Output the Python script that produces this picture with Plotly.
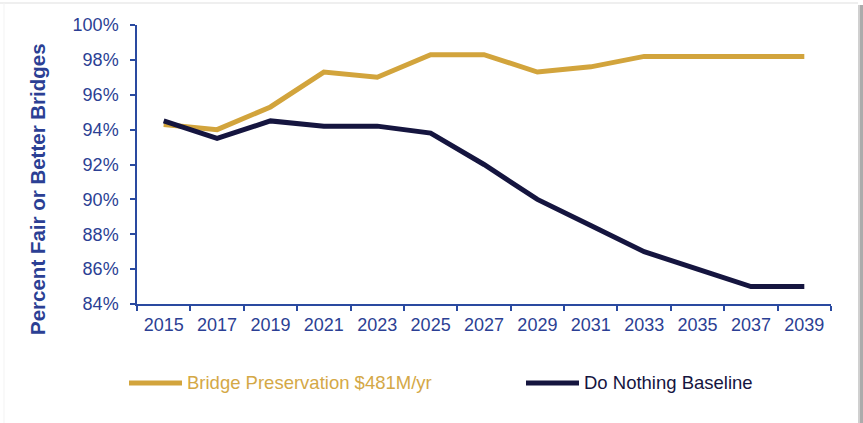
import plotly.graph_objects as go

# Bridge condition forecast, percent of bridges rated fair or better
years = ["2015", "2017", "2019", "2021", "2023", "2025", "2027",
         "2029", "2031", "2033", "2035", "2037", "2039"]
preservation = [94.3, 94.0, 95.3, 97.3, 97.0, 98.3, 98.3,
                97.3, 97.6, 98.2, 98.2, 98.2, 98.2]
do_nothing = [94.5, 93.5, 94.5, 94.2, 94.2, 93.8, 92.0,
              90.0, 88.5, 87.0, 86.0, 85.0, 85.0]

series_names = ["Bridge Preservation $481M/yr", "Do Nothing Baseline"]
y_ticks = [84, 86, 88, 90, 92, 94, 96, 98, 100]
y_tick_text = [f"{v}%" for v in y_ticks]
y_title = "Percent Fair or Better Bridges"

GOLD = "#D2A43C"
GOLD_TEXT = "#D4A846"
NAVY = "#15153F"
AXIS_BLUE = "#2A4AA0"
LABEL_BLUE = "#2B3F94"
FONT = "Liberation Sans, Arial, sans-serif"

W, H = 863, 423
L, R, T, B = 137, 32, 25, 119
PW, PH = W - L - R, H - T - B


def px_x(p):
    return (p - L) / PW


def px_y(p):
    return (H - B - p) / PH


fig = go.Figure()
fig.add_trace(go.Scatter(x=years, y=preservation, mode="lines",
                         name=series_names[0],
                         line=dict(color=GOLD, width=5), showlegend=False))
fig.add_trace(go.Scatter(x=years, y=do_nothing, mode="lines",
                         name=series_names[1],
                         line=dict(color=NAVY, width=5), showlegend=False))

shapes = [
    # card frame: faint top/left edges and a soft shadow on the right
    dict(type="line", xref="paper", yref="paper",
         x0=px_x(0), x1=px_x(858), y0=px_y(3), y1=px_y(3),
         line=dict(color="#EFEFEF", width=2), layer="below"),
    dict(type="line", xref="paper", yref="paper",
         x0=px_x(4), x1=px_x(4), y0=px_y(3), y1=px_y(423),
         line=dict(color="#F3F3F3", width=1), layer="below"),
    dict(type="rect", xref="paper", yref="paper",
         x0=px_x(858), x1=px_x(860), y0=px_y(5), y1=px_y(423),
         fillcolor="#D0D0D0", line=dict(width=0), layer="below"),
    dict(type="rect", xref="paper", yref="paper",
         x0=px_x(860), x1=px_x(863), y0=px_y(5), y1=px_y(423),
         fillcolor="#ABABAB", line=dict(width=0), layer="below"),
    # legend samples
    dict(type="line", xref="paper", yref="paper",
         x0=px_x(129), x1=px_x(182), y0=px_y(383), y1=px_y(383),
         line=dict(color=GOLD, width=5)),
    dict(type="line", xref="paper", yref="paper",
         x0=px_x(526), x1=px_x(579), y0=px_y(383), y1=px_y(383),
         line=dict(color=NAVY, width=5)),
]

annotations = [
    dict(text=series_names[0], xref="paper", yref="paper",
         x=px_x(185), y=px_y(383), xanchor="left", yanchor="middle",
         showarrow=False, font=dict(family=FONT, size=18.5, color=GOLD_TEXT)),
    dict(text=series_names[1], xref="paper", yref="paper",
         x=px_x(582), y=px_y(383), xanchor="left", yanchor="middle",
         showarrow=False, font=dict(family=FONT, size=18.5, color=NAVY)),
    dict(text=f"<b>{y_title}</b>", xref="paper", yref="paper",
         x=px_x(37), y=px_y(189), xanchor="center", yanchor="middle",
         textangle=-90, showarrow=False,
         font=dict(family=FONT, size=20.5, color=LABEL_BLUE)),
]

fig.update_layout(
    width=W, height=H,
    margin=dict(l=L, r=R, t=T, b=B),
    paper_bgcolor="white", plot_bgcolor="white",
    font=dict(family=FONT, color=LABEL_BLUE),
    shapes=shapes, annotations=annotations,
    showlegend=False,
    xaxis=dict(
        type="category", range=[-0.5, len(years) - 0.5],
        tickson="boundaries", ticks="outside", ticklen=5, tickwidth=1.5,
        tickcolor=AXIS_BLUE, showline=True, linecolor=AXIS_BLUE, linewidth=1.5,
        showgrid=False, zeroline=False, ticklabelstandoff=4,
        tickfont=dict(family=FONT, size=18, color=LABEL_BLUE),
    ),
    yaxis=dict(
        range=[84, 100], tickvals=y_ticks, ticktext=y_tick_text,
        ticks="outside", ticklen=5, tickwidth=1.5, tickcolor=AXIS_BLUE,
        showline=True, linecolor=AXIS_BLUE, linewidth=1.5,
        showgrid=False, zeroline=False, ticklabelstandoff=8,
        tickfont=dict(family=FONT, size=18, color=LABEL_BLUE),
    ),
)

fig.write_html("out.html")
